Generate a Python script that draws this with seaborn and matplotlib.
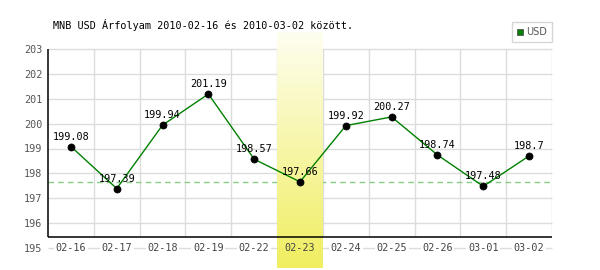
import numpy as np
import pandas as pd
import matplotlib
matplotlib.use("Agg")
import matplotlib.pyplot as plt
from matplotlib.lines import Line2D
import seaborn as sns

dates = ["02-16", "02-17", "02-18", "02-19", "02-22", "02-23",
         "02-24", "02-25", "02-26", "03-01", "03-02"]
rates = [199.08, 197.39, 199.94, 201.19, 198.57, 197.66,
         199.92, 200.27, 198.74, 197.48, 198.70]
rate_labels = ["199.08", "197.39", "199.94", "201.19", "198.57", "197.66",
               "199.92", "200.27", "198.74", "197.48", "198.7"]
y_ticks = [195, 196, 197, 198, 199, 200, 201, 202, 203]
highlight = "02-23"
ref_value = 197.66
title = "MNB USD Árfolyam 2010-02-16 és 2010-03-02 között."

sns.set_theme(style="white")
plt.rcParams["font.family"] = ["DejaVu Sans Mono", "DejaVu Sans"]

W, H = 600, 270
fig = plt.figure(figsize=(W / 100, H / 100), dpi=100)
fig.patch.set_facecolor("white")
ax = fig.add_axes([48 / W, (H - 248) / H, 504 / W, 199 / H])
ax.set_facecolor("none")
ax.set_xlim(-0.5, len(dates) - 0.5)
ax.set_ylim(195, 203)
for s in ax.spines.values():
    s.set_visible(False)

df = pd.DataFrame({"idx": np.arange(len(dates)), "rate": rates})
ppu = 199 / 8.0
y_axis_bottom = 195 + 11 / ppu

# horizontal gridlines
for v in y_ticks:
    ax.plot([-0.5, len(dates) - 0.5], [v, v], color="#dcdcdc", lw=1, zorder=1,
            clip_on=False, solid_capstyle="butt")
# vertical gridlines at category boundaries
for b in np.arange(0.5, len(dates) + 0.5, 1.0):
    ax.plot([b, b], [y_axis_bottom, 203], color="#dcdcdc", lw=1, zorder=1,
            solid_capstyle="butt")

# highlight band with gradient
hi = dates.index(highlight)
grad = np.linspace(0, 1, 256).reshape(-1, 1)
top = np.array([254, 254, 240]) / 255.0
bot = np.array([240, 238, 95]) / 255.0
img = top[None, None, :] * (1 - grad[:, :, None]) + bot[None, None, :] * grad[:, :, None]
ax.imshow(img, extent=(hi - 0.5, hi + 0.5, 195 - 20 / ppu, 195 + 216 / ppu),
          aspect="auto", origin="upper", zorder=2, clip_on=False)

# reference dashed line
ax.plot([-0.5, len(dates) - 0.5], [ref_value, ref_value], color="#88cc88",
        lw=1, ls=(0, (4, 3)), zorder=1.5)

# axis lines
ax.plot([-0.5, -0.5], [y_axis_bottom, 203], color="black", lw=1.1, zorder=3,
        clip_on=False, solid_capstyle="butt")
ax.plot([-0.5, len(dates) - 0.5], [y_axis_bottom, y_axis_bottom], color="black",
        lw=1.1, zorder=3, clip_on=False, solid_capstyle="butt")

# data
sns.lineplot(data=df, x="idx", y="rate", ax=ax, color="#008000", lw=1,
             zorder=4, legend=False)
sns.scatterplot(data=df, x="idx", y="rate", ax=ax, color="black", s=26,
                edgecolor="black", linewidth=0.5, zorder=5, legend=False)

for i, (v, lab) in enumerate(zip(rates, rate_labels)):
    ax.text(i, v + 10 / ppu, lab, ha="center", va="center", fontsize=7.3,
            color="black", zorder=6)

# x labels
for i, d in enumerate(dates):
    kw = {}
    if i != hi:
        kw["bbox"] = dict(facecolor="white", edgecolor="none", pad=1.2)
    ax.text(i, 195, d, ha="center", va="center", fontsize=7.3, color="#444444",
            zorder=6, clip_on=False, **kw)

ax.set_xticks([])
ax.set_yticks(y_ticks)
ax.set_yticklabels([str(v) for v in y_ticks])
ax.tick_params(axis="y", length=0, pad=4, labelsize=7.3, labelcolor="#555555")
ax.set_xlabel("")
ax.set_ylabel("")

fig.text(53 / W, 1 - 25 / H, title, ha="left", va="center", fontsize=7.3,
         color="black")

handle = Line2D([], [], marker="s", color="none", markerfacecolor="#008000",
                markeredgecolor="#555555", markersize=5, markeredgewidth=0.6)
leg = fig.legend([handle], ["USD"], loc="center",
                 bbox_to_anchor=(532 / W, 1 - 32 / H), frameon=True,
                 fancybox=False, handlelength=0.6, handletextpad=0.3,
                 borderpad=0.5, prop={"family": "DejaVu Sans", "size": 7})
leg.get_frame().set_edgecolor("#cccccc")
leg.get_frame().set_linewidth(1)
for t in leg.get_texts():
    t.set_color("#555555")

fig.savefig("out.png", dpi=100)
